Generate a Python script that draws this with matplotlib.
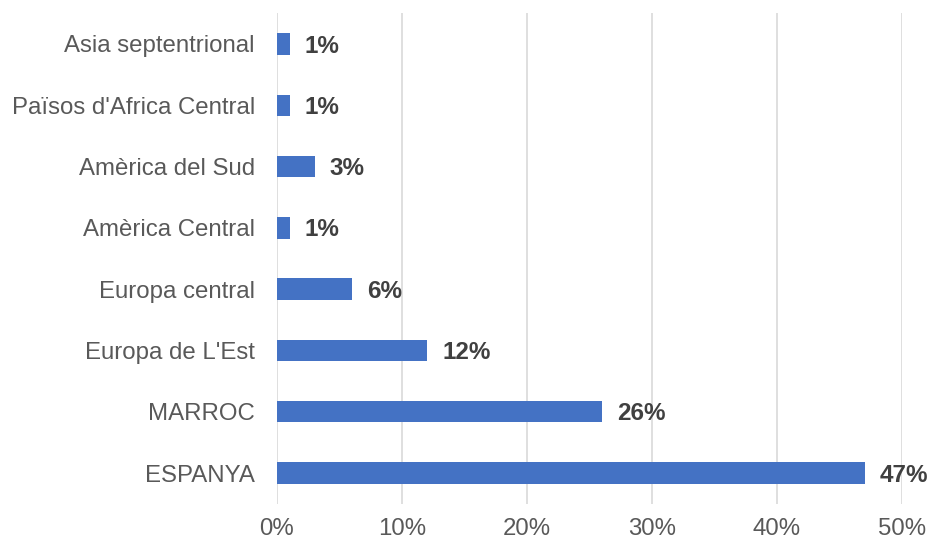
import matplotlib
matplotlib.use("Agg")
import matplotlib.pyplot as plt
from matplotlib.ticker import FuncFormatter

categories = ["Asia septentrional", "Països d'Africa Central", "Amèrica del Sud",
              "Amèrica Central", "Europa central", "Europa de L'Est", "MARROC", "ESPANYA"]
values = [0.01, 0.01, 0.03, 0.01, 0.06, 0.12, 0.26, 0.47]
labels = ["1%", "1%", "3%", "1%", "6%", "12%", "26%", "47%"]
xticks = [0, 0.1, 0.2, 0.3, 0.4, 0.5]

plt.rcParams['font.family'] = ['Liberation Sans', 'DejaVu Sans']

fig = plt.figure(figsize=(9.33, 5.46), dpi=100)
ax = fig.add_axes([277/933, 1-503.7/546, (902-277)/933, (503.7-13.3)/546])

y = list(range(len(categories)))
ax.barh(y, values, height=0.35, color="#4472C4", zorder=3)
ax.set_ylim(len(categories)-0.5, -0.5)
ax.set_yticks(y)
ax.set_yticklabels(categories)
ax.set_xlim(0, 0.5)
ax.set_xticks(xticks)
ax.xaxis.set_major_formatter(FuncFormatter(lambda v, p: f"{round(v*100)}%"))

for yi, v, lab in zip(y, values, labels):
    ax.annotate(lab, (v, yi), xytext=(11, -1.5), textcoords="offset points",
                ha="left", va="center", fontsize=17.5, fontweight="bold", color="#404040")

ax.grid(axis="x", color="#D9D9D9", linewidth=1.2, zorder=0)
for s in ax.spines.values():
    s.set_visible(False)
ax.tick_params(axis="both", length=0, labelsize=17.3, labelcolor="#595959")
ax.tick_params(axis="y", pad=16)
ax.tick_params(axis="x", pad=10)

fig.savefig("out.png", dpi=100)
